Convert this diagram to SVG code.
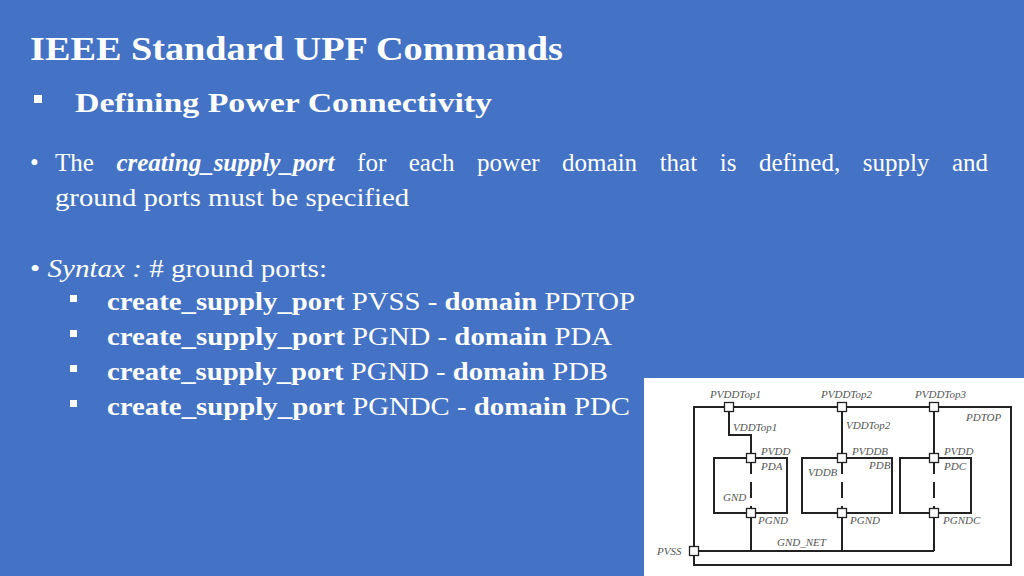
<svg xmlns="http://www.w3.org/2000/svg" width="1024" height="576" viewBox="0 0 1024 576">
<style>
text{font-family:"Liberation Serif","Times New Roman",serif}
.t{fill:#fff}
.b{font-size:25px}
.d{font-style:italic;font-size:11px;fill:#555}
.ln{stroke:#222;stroke-width:2;fill:none}
.pt{fill:#fff;stroke:#222;stroke-width:1.3}
</style>
<rect width="1024" height="576" fill="#4472C4"/>
<text class="t" x="30" y="60" font-size="33" font-weight="bold" textLength="533" lengthAdjust="spacingAndGlyphs">IEEE Standard UPF Commands</text>
<rect x="34" y="95" width="8" height="8" fill="#fff"/>
<text class="t" x="75" y="112" font-size="28" font-weight="bold" textLength="417" lengthAdjust="spacingAndGlyphs">Defining Power Connectivity</text>
<text class="t b" x="30" y="171">•</text>
<text class="t b" x="55" y="171" word-spacing="16.3">The <tspan font-weight="bold" font-style="italic">creating_supply_port</tspan> for each power domain that is defined, supply and</text>
<text class="t b" x="55" y="206" textLength="354" lengthAdjust="spacingAndGlyphs">ground ports must be specified</text>
<text class="t b" x="30" y="277" textLength="297" lengthAdjust="spacingAndGlyphs">• <tspan font-style="italic">Syntax :</tspan> # ground ports:</text>
<g id="items">
<rect x="70" y="295" width="7" height="7" fill="#fff"/><text class="t b" x="107" y="310" textLength="528" lengthAdjust="spacingAndGlyphs"><tspan font-weight="bold">create_supply_port</tspan> PVSS - <tspan font-weight="bold">domain</tspan> PDTOP</text>
<rect x="70" y="330" width="7" height="7" fill="#fff"/><text class="t b" x="107" y="345" textLength="505" lengthAdjust="spacingAndGlyphs"><tspan font-weight="bold">create_supply_port</tspan> PGND - <tspan font-weight="bold">domain</tspan> PDA</text>
<rect x="70" y="365" width="7" height="7" fill="#fff"/><text class="t b" x="107" y="380" textLength="501" lengthAdjust="spacingAndGlyphs"><tspan font-weight="bold">create_supply_port</tspan> PGND - <tspan font-weight="bold">domain</tspan> PDB</text>
<rect x="70" y="400" width="7" height="7" fill="#fff"/><text class="t b" x="107" y="415" textLength="523" lengthAdjust="spacingAndGlyphs"><tspan font-weight="bold">create_supply_port</tspan> PGNDC - <tspan font-weight="bold">domain</tspan> PDC</text>
</g>
<rect x="644" y="378" width="380" height="198" fill="#fff"/>
<g id="connectors">
<path class="ln" d="M729 407V435H751V458"/>
<path class="ln" d="M842 407V458"/>
<path class="ln" d="M934 407V458"/>
<path class="ln" stroke-dasharray="16,8" d="M751 458V513M842 458V513M934 458V513"/>
<path class="ln" d="M751 513V551M842 513V551M934 513V551M694 551H934"/>
</g>
<g id="PDTOP"><rect class="ln" x="694" y="407" width="317" height="158"/><text class="d" x="966" y="421">PDTOP</text></g>
<g id="PDA"><rect class="ln" x="714" y="458" width="73" height="55"/><text class="d" x="761" y="470">PDA</text><text class="d" x="723" y="501">GND</text></g>
<g id="PDB"><rect class="ln" x="802" y="458" width="90" height="55"/><text class="d" x="869" y="469">PDB</text><text class="d" x="808" y="476">VDDB</text></g>
<g id="PDC"><rect class="ln" x="900" y="458" width="71" height="55"/><text class="d" x="944" y="470">PDC</text></g>
<g id="ports">
<rect class="pt" x="724.5" y="402.5" width="9" height="9"/><text class="d" x="710" y="398">PVDDTop1</text>
<rect class="pt" x="837.5" y="402.5" width="9" height="9"/><text class="d" x="821" y="398">PVDDTop2</text>
<rect class="pt" x="929.5" y="402.5" width="9" height="9"/><text class="d" x="915" y="398">PVDDTop3</text>
<text class="d" x="733" y="431">VDDTop1</text><text class="d" x="846" y="429">VDDTop2</text>
<rect class="pt" x="746.5" y="453.5" width="9" height="9"/><text class="d" x="761" y="455">PVDD</text>
<rect class="pt" x="837.5" y="453.5" width="9" height="9"/><text class="d" x="852" y="455">PVDDB</text>
<rect class="pt" x="929.5" y="453.5" width="9" height="9"/><text class="d" x="944" y="455">PVDD</text>
<rect class="pt" x="746.5" y="508.5" width="9" height="9"/><text class="d" x="758" y="524">PGND</text>
<rect class="pt" x="837.5" y="508.5" width="9" height="9"/><text class="d" x="850" y="524">PGND</text>
<rect class="pt" x="929.5" y="508.5" width="9" height="9"/><text class="d" x="943" y="524">PGNDC</text>
<rect class="pt" x="689.5" y="546.5" width="9" height="9"/><text class="d" x="657" y="555">PVSS</text>
<text class="d" x="777" y="546">GND_NET</text>
</g>
</svg>
